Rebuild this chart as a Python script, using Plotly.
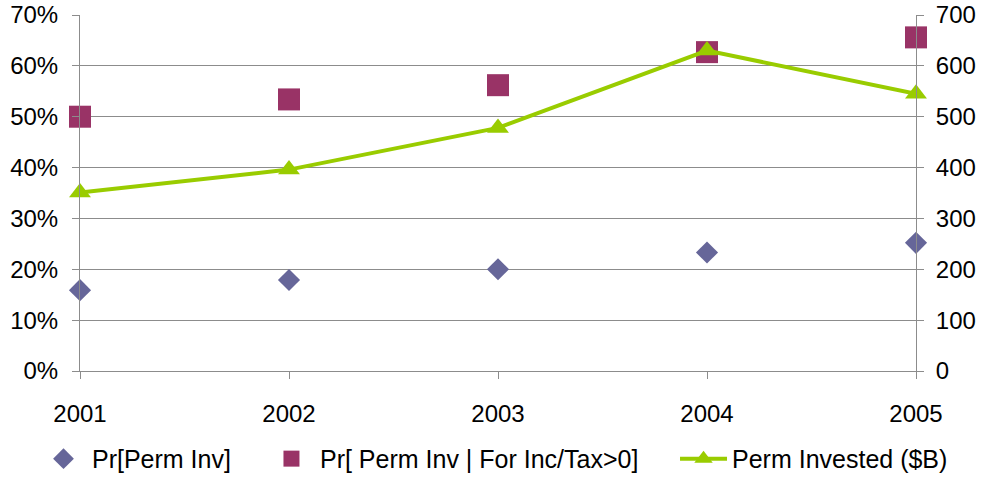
import plotly.graph_objects as go

# Years on the shared category axis
years = [2001, 2002, 2003, 2004, 2005]

# Probability series (left axis, fractions)
pr_perm_inv = [0.159, 0.179, 0.200, 0.233, 0.252]
pr_perm_inv_cond = [0.500, 0.534, 0.562, 0.627, 0.656]

# Amount invested, $B (right axis)
perm_invested = [351, 396, 478, 630, 545]

font_family = "Liberation Sans, Arial, sans-serif"
grid_color = "#8c8c8c"

fig = go.Figure()

fig.add_trace(go.Scatter(
    x=years, y=pr_perm_inv, name="Pr[Perm Inv]",
    mode="markers",
    marker=dict(symbol="diamond", size=17, color="#666699"),
    cliponaxis=False, legend="legend",
))
fig.add_trace(go.Scatter(
    x=years, y=pr_perm_inv_cond, name="Pr[ Perm Inv | For Inc/Tax>0]",
    mode="markers",
    marker=dict(symbol="square", size=22, color="#993366"),
    cliponaxis=False, legend="legend2",
))
fig.add_trace(go.Scatter(
    x=years, y=perm_invested, name="Perm Invested ($B)",
    mode="lines+markers",
    line=dict(color="#99CC00", width=4),
    marker=dict(symbol="triangle-up", size=19, color="#99CC00"),
    yaxis="y2",
    cliponaxis=False, legend="legend3",
))


def legend_box(x):
    # one legend entry per box, laid out along the bottom row
    return dict(
        orientation="h",
        xref="container", x=x, xanchor="left",
        yref="container", y=0.042, yanchor="middle",
        font=dict(size=25), itemwidth=47,
        bgcolor="rgba(0,0,0,0)",
    )


fig.update_layout(
    width=986, height=479,
    margin=dict(l=80, r=70, t=15, b=108, autoexpand=False),
    paper_bgcolor="white", plot_bgcolor="white",
    font=dict(family=font_family, size=24, color="black"),
    showlegend=True,
    legend=legend_box(0.0355),
    legend2=legend_box(0.2667),
    legend3=legend_box(0.6846),
    xaxis=dict(
        range=[2001, 2005], tickmode="array", tickvals=years,
        ticktext=[str(y) for y in years],
        showgrid=False, zeroline=False,
        showline=True, linecolor=grid_color, linewidth=1,
        ticks="outside", ticklen=7, tickcolor=grid_color,
        ticklabelstandoff=14,
    ),
    yaxis=dict(
        range=[0, 0.7], dtick=0.1, tickformat=".0%",
        showgrid=True, gridcolor=grid_color, gridwidth=1,
        zeroline=False, showline=True, linecolor=grid_color,
        ticks="outside", ticklen=7, tickcolor=grid_color,
        ticklabelstandoff=9,
    ),
    yaxis2=dict(
        range=[0, 700], dtick=100, overlaying="y", side="right",
        showgrid=False, zeroline=False, showline=True, linecolor=grid_color,
        ticks="outside", ticklen=7, tickcolor=grid_color,
        ticklabelstandoff=7,
    ),
)

fig.write_html("out.html")
